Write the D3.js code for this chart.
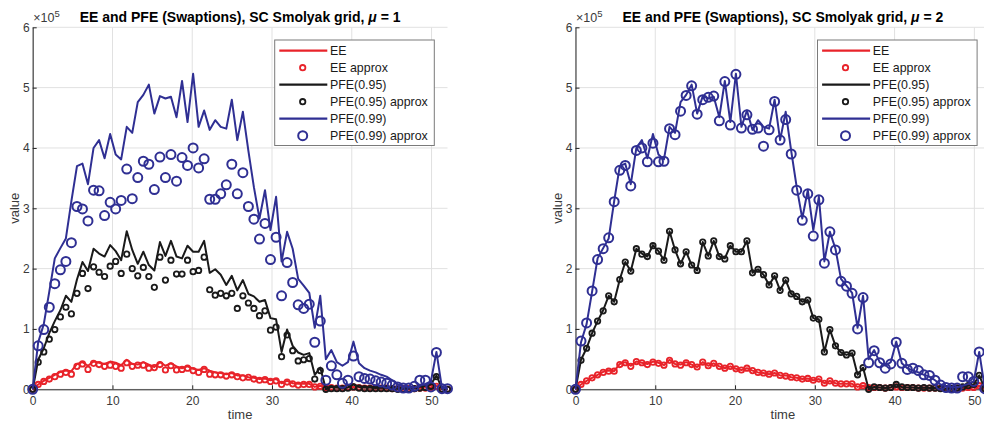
<!DOCTYPE html>
<html>
<head>
<meta charset="utf-8">
<script src="https://cdn.jsdelivr.net/npm/d3@7"></script>
<style>
  html, body { margin: 0; padding: 0; background: #fff; }
  svg { display: block; font-family: Arial, "Liberation Sans", Helvetica, sans-serif; }
</style>
</head>
<body>
<svg id="chart" width="984" height="422"></svg>
<script>
// Exposure profiles, values in units of 1e5
const time = [0.00,0.69,1.39,2.08,2.77,3.47,4.16,4.85,5.55,6.24,
  6.93,7.63,8.32,9.01,9.71,10.40,11.09,11.79,12.48,13.17,
  13.87,14.56,15.25,15.95,16.64,17.33,18.03,18.72,19.41,20.11,
  20.80,21.49,22.19,22.88,23.57,24.27,24.96,25.65,26.35,27.04,
  27.73,28.43,29.12,29.81,30.51,31.20,31.89,32.59,33.28,33.97,
  34.67,35.36,36.05,36.75,37.44,38.13,38.83,39.52,40.21,40.91,
  41.60,42.29,42.99,43.68,44.37,45.07,45.76,46.45,47.15,47.84,
  48.53,49.23,49.92,50.61,51.31,52.00];

// Reference (Monte Carlo) profiles
const eeExact = [0.00,0.08,0.14,0.19,0.24,0.29,0.31,0.30,0.42,0.45,
  0.39,0.46,0.44,0.42,0.46,0.44,0.40,0.49,0.42,0.41,
  0.45,0.41,0.37,0.45,0.39,0.43,0.38,0.35,0.38,0.34,
  0.32,0.35,0.31,0.28,0.27,0.25,0.27,0.23,0.23,0.20,
  0.19,0.17,0.18,0.15,0.17,0.10,0.14,0.10,0.09,0.09,
  0.09,0.04,0.06,0.03,0.03,0.03,0.02,0.03,0.04,0.03,
  0.03,0.03,0.02,0.02,0.02,0.02,0.02,0.01,0.01,0.02,
  0.02,0.03,0.03,0.06,0.01,0.00];
const pfe95Exact = [0.00,0.49,0.68,0.93,1.13,1.31,1.55,1.45,1.82,2.11,
  1.96,2.33,2.25,2.20,2.39,2.29,2.14,2.62,2.31,2.08,
  2.28,2.06,1.97,2.44,2.21,2.46,2.20,2.17,2.38,2.28,
  2.28,2.46,1.93,1.99,1.90,1.73,1.88,1.64,1.81,1.58,
  1.54,1.45,1.48,1.18,1.16,0.62,0.99,0.72,0.61,0.57,
  0.60,0.24,0.36,0.00,0.04,0.03,0.02,0.03,0.08,0.04,
  0.03,0.03,0.02,0.03,0.02,0.02,0.01,0.01,0.01,0.02,
  0.04,0.06,0.08,0.23,0.01,0.00];
const pfe99Exact = [0.00,0.78,1.08,1.62,2.17,2.34,2.50,3.12,3.70,3.74,
  3.40,4.00,4.13,3.83,4.23,3.89,3.81,4.35,4.25,4.76,
  4.88,5.05,4.57,4.86,4.82,4.85,4.51,5.11,4.43,5.23,
  4.35,4.62,4.30,4.46,4.35,4.32,4.80,4.13,4.60,3.95,
  3.35,2.83,3.30,2.64,3.19,2.12,2.61,2.33,1.83,1.72,
  1.60,1.02,1.55,0.50,0.65,0.45,0.39,0.45,0.79,0.43,
  0.35,0.31,0.28,0.24,0.21,0.15,0.08,0.05,0.04,0.03,
  0.06,0.09,0.13,0.62,0.02,0.02];

// Smolyak grid approximation, mu = 1
const eeApproxMu1 = [0.00,0.08,0.13,0.17,0.21,0.25,0.28,0.25,0.38,0.42,
  0.33,0.43,0.41,0.38,0.40,0.38,0.35,0.44,0.38,0.40,
  0.40,0.35,0.36,0.41,0.32,0.39,0.32,0.33,0.35,0.31,
  0.28,0.33,0.25,0.24,0.24,0.22,0.24,0.21,0.19,0.20,
  0.17,0.15,0.16,0.13,0.14,0.08,0.12,0.09,0.07,0.08,
  0.08,0.04,0.05,0.03,0.03,0.02,0.02,0.03,0.04,0.03,
  0.02,0.02,0.02,0.02,0.02,0.01,0.01,0.01,0.01,0.01,
  0.02,0.02,0.02,0.05,0.00,0.00];
const pfe95ApproxMu1 = [0.00,0.45,0.62,0.83,0.99,1.20,1.36,1.25,1.59,1.92,
  1.67,2.03,1.94,1.87,2.04,2.12,1.92,2.24,2.00,1.88,
  2.02,1.87,1.69,2.19,1.81,2.14,1.91,1.91,2.14,1.95,
  1.97,2.19,1.65,1.56,1.59,1.55,1.59,1.34,1.55,1.43,
  1.34,1.22,1.30,0.98,1.03,0.54,0.90,0.64,0.47,0.49,
  0.51,0.17,0.31,0.00,0.01,0.01,0.01,0.02,0.04,0.02,
  0.01,0.01,0.01,0.01,0.01,0.01,0.00,0.00,0.00,0.01,
  0.02,0.03,0.05,0.21,0.00,0.00];
const pfe99ApproxMu1 = [0.00,0.72,0.99,1.36,1.75,1.98,2.12,2.43,3.03,2.99,
  2.79,3.30,3.29,2.88,3.10,2.99,3.13,3.65,3.16,3.51,
  3.78,3.73,3.31,3.85,3.51,3.89,3.45,3.84,3.71,4.00,
  3.67,3.82,3.15,3.15,3.24,3.39,3.73,3.24,3.59,3.03,
  2.82,2.49,2.75,2.15,2.52,1.55,2.10,1.77,1.40,1.34,
  1.41,0.78,1.13,0.15,0.39,0.24,0.10,0.15,0.55,0.21,
  0.18,0.17,0.14,0.12,0.10,0.07,0.04,0.02,0.02,0.05,
  0.15,0.15,0.04,0.61,0.01,0.01];

// Smolyak grid approximation, mu = 2
const eeApproxMu2 = [0.00,0.08,0.14,0.19,0.24,0.28,0.30,0.30,0.41,0.44,
  0.38,0.46,0.44,0.41,0.45,0.43,0.40,0.48,0.42,0.40,
  0.44,0.41,0.37,0.45,0.39,0.43,0.38,0.35,0.38,0.34,
  0.32,0.35,0.31,0.28,0.27,0.25,0.27,0.23,0.22,0.20,
  0.19,0.17,0.18,0.15,0.17,0.10,0.14,0.10,0.09,0.09,
  0.09,0.04,0.06,0.03,0.03,0.03,0.02,0.03,0.04,0.03,
  0.03,0.03,0.02,0.02,0.02,0.02,0.02,0.01,0.01,0.02,
  0.02,0.03,0.03,0.06,0.01,0.00];
const pfe95ApproxMu2 = [0.00,0.48,0.68,0.93,1.13,1.30,1.55,1.45,1.82,2.11,
  1.96,2.33,2.24,2.20,2.38,2.29,2.14,2.62,2.31,2.08,
  2.28,2.06,1.97,2.44,2.21,2.46,2.20,2.16,2.38,2.28,
  2.28,2.46,1.93,1.99,1.90,1.73,1.88,1.64,1.81,1.58,
  1.54,1.45,1.48,1.18,1.16,0.62,0.99,0.72,0.61,0.57,
  0.60,0.24,0.36,0.00,0.04,0.03,0.02,0.03,0.08,0.04,
  0.03,0.03,0.02,0.03,0.02,0.02,0.01,0.01,0.01,0.02,
  0.04,0.06,0.08,0.23,0.01,0.00];
const pfe99ApproxMu2 = [0.00,0.80,1.10,1.63,2.15,2.33,2.51,3.11,3.63,3.71,
  3.37,3.96,4.00,3.77,4.08,3.77,3.78,4.32,4.22,4.61,
  4.87,5.03,4.56,4.80,4.84,4.86,4.45,5.10,4.38,5.22,
  4.33,4.55,4.31,4.33,4.03,4.30,4.77,4.13,4.47,3.90,
  3.30,2.80,3.24,2.54,3.14,2.09,2.61,2.31,1.79,1.71,
  1.59,1.00,1.52,0.44,0.64,0.44,0.35,0.42,0.78,0.43,
  0.33,0.35,0.31,0.24,0.23,0.15,0.07,0.03,0.02,0.02,
  0.21,0.21,0.13,0.62,0.01,0.00];

const xTicks = [0, 10, 20, 30, 40, 50];
const yTicks = [0, 1, 2, 3, 4, 5, 6];
const muValues = ["1", "2"];
const legendLabels = ["EE", "EE approx", "PFE(0.95)", "PFE(0.95) approx", "PFE(0.99)", "PFE(0.99) approx"];

const RED = "#e8232a", BLACK = "#1a1a1a", BLUE = "#2f2f93";
const AXIS = "#262626", GRID = "#e1e1e1", TXT = "#3a3a3a";

const svg = d3.select("#chart");
const plotTop = 27.3, plotBottom = 389.3, plotW = 414.8;

const panels = [
  { left: 32.7, mu: muValues[0], ee: eeApproxMu1, p95: pfe95ApproxMu1, p99: pfe99ApproxMu1 },
  { left: 575.5, mu: muValues[1], ee: eeApproxMu2, p95: pfe95ApproxMu2, p99: pfe99ApproxMu2 }
];

panels.forEach(p => {
  const x = d3.scaleLinear().domain([0, 52]).range([p.left, p.left + plotW]);
  const y = d3.scaleLinear().domain([0, 6]).range([plotBottom, plotTop]);
  const g = svg.append("g");

  // grid
  g.append("g").selectAll("line").data(xTicks).join("line")
    .attr("x1", d => x(d)).attr("x2", d => x(d))
    .attr("y1", plotTop).attr("y2", plotBottom)
    .attr("stroke", GRID).attr("stroke-width", 1);
  g.append("g").selectAll("line").data(yTicks).join("line")
    .attr("x1", x(0)).attr("x2", x(52))
    .attr("y1", d => y(d)).attr("y2", d => y(d))
    .attr("stroke", GRID).attr("stroke-width", 1);

  // axes (ticks point inward)
  const gx = g.append("g").attr("transform", `translate(0,${plotBottom})`)
    .call(d3.axisBottom(x).tickValues(xTicks).tickSize(-4).tickSizeOuter(0).tickPadding(7).tickFormat(d3.format("d")));
  const gy = g.append("g").attr("transform", `translate(${p.left},0)`)
    .call(d3.axisLeft(y).tickValues(yTicks).tickSize(-4).tickSizeOuter(0).tickPadding(3).tickFormat(d3.format("d")));
  [gx, gy].forEach(a => {
    a.select(".domain").attr("stroke", AXIS).attr("stroke-width", 1);
    a.selectAll(".tick line").attr("stroke", AXIS);
    a.selectAll(".tick text").attr("fill", TXT).attr("font-size", 12)
      .attr("font-family", "Arial, 'Liberation Sans', Helvetica, sans-serif");
  });

  // exponent label
  const ex = g.append("text").attr("x", p.left + 0.5).attr("y", 22)
    .attr("fill", TXT).attr("font-size", 12.5);
  ex.append("tspan").text("\u00d710");
  ex.append("tspan").attr("font-size", 9.5).attr("dy", -5.5).text("5");

  // data
  const line = d3.line().x((d, i) => x(time[i])).y(d => y(d));
  const drawLine = (vals, color) => g.append("path").datum(vals)
    .attr("d", line).attr("fill", "none").attr("stroke", color)
    .attr("stroke-width", 2).attr("stroke-linejoin", "round");
  const drawDots = (vals, color, r, sw) => g.append("g").selectAll("circle").data(vals).join("circle")
    .attr("cx", (d, i) => x(time[i])).attr("cy", d => y(d)).attr("r", r)
    .attr("fill", "none").attr("stroke", color).attr("stroke-width", sw);

  drawLine(eeExact, RED);
  drawDots(p.ee, RED, 2.7, 1.8);
  drawLine(pfe95Exact, BLACK);
  drawDots(p.p95, BLACK, 2.7, 1.8);
  drawLine(pfe99Exact, BLUE);
  drawDots(p.p99, BLUE, 4.5, 2);

  // title
  const t = g.append("text").attr("x", p.left + plotW / 2).attr("y", 21.5)
    .attr("text-anchor", "middle").attr("font-size", 14).attr("font-weight", "bold").attr("fill", "#000");
  t.append("tspan").text("EE and PFE (Swaptions), SC Smolyak grid, ");
  t.append("tspan").attr("font-style", "italic").text("\u03bc");
  t.append("tspan").text(" = " + p.mu);

  // axis labels
  g.append("text").attr("transform", `translate(${p.left - 13.4},${(plotTop + plotBottom) / 2}) rotate(-90)`)
    .attr("text-anchor", "middle").attr("font-size", 13).attr("fill", TXT).text("value");
  g.append("text").attr("x", p.left + plotW / 2).attr("y", 419)
    .attr("text-anchor", "middle").attr("font-size", 13).attr("fill", TXT).text("time");

  // legend
  const lg = g.append("g").attr("transform", `translate(${p.left + 242},40)`);
  lg.append("rect").attr("x", 0).attr("y", 0).attr("width", 159.6).attr("height", 105.5)
    .attr("fill", "#fff").attr("stroke", "#7a7a7a").attr("stroke-width", 1);
  const styles = [
    { type: "line", color: RED }, { type: "dot", color: RED, r: 2.7, sw: 1.8 },
    { type: "line", color: BLACK }, { type: "dot", color: BLACK, r: 2.7, sw: 1.8 },
    { type: "line", color: BLUE }, { type: "dot", color: BLUE, r: 4.5, sw: 2 }
  ];
  legendLabels.forEach((label, k) => {
    const cy = 10.7 + k * 17;
    const s = styles[k];
    if (s.type === "line") {
      lg.append("line").attr("x1", 4.6).attr("x2", 52.6).attr("y1", cy).attr("y2", cy)
        .attr("stroke", s.color).attr("stroke-width", 2.2);
    } else {
      lg.append("circle").attr("cx", 28).attr("cy", cy).attr("r", s.r)
        .attr("fill", "none").attr("stroke", s.color).attr("stroke-width", s.sw);
    }
    lg.append("text").attr("x", 55.3).attr("y", cy).attr("dy", "0.36em")
      .attr("font-size", 12.4).attr("fill", "#1a1a1a").text(label);
  });
});
</script>
</body>
</html>
